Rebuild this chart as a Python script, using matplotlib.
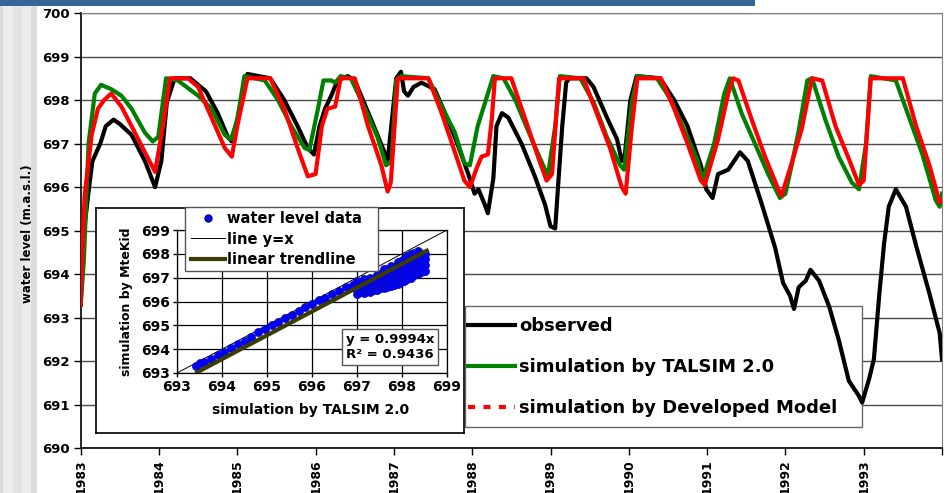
import matplotlib
matplotlib.use('Agg')
import matplotlib.pyplot as plt
from matplotlib.lines import Line2D
from matplotlib.patches import Rectangle

# observed water level
obs_year = [1983.0, 1983.02, 1983.05, 1983.1, 1983.15, 1983.25, 1983.32, 1983.42, 1983.5, 1983.65,
            1983.82, 1983.95, 1984.03, 1984.1, 1984.2, 1984.4, 1984.6, 1984.75, 1984.88, 1984.93,
            1985.0, 1985.1, 1985.13, 1985.42, 1985.6, 1985.77, 1985.9, 1985.98, 1986.05, 1986.12,
            1986.2, 1986.28, 1986.41, 1986.5, 1986.71, 1986.88, 1986.92, 1987.03, 1987.09, 1987.13,
            1987.18, 1987.25, 1987.35, 1987.52, 1987.69, 1987.82, 1987.95, 1988.03, 1988.08, 1988.16,
            1988.2, 1988.27, 1988.31, 1988.38, 1988.46, 1988.63, 1988.8, 1988.93, 1989.0, 1989.06,
            1989.09, 1989.15, 1989.2, 1989.24, 1989.46, 1989.55, 1989.72, 1989.85, 1989.91, 1989.95,
            1990.02, 1990.1, 1990.4, 1990.58, 1990.75, 1990.92, 1990.99, 1991.07, 1991.14, 1991.27,
            1991.42, 1991.52, 1991.7, 1991.87, 1991.97, 1992.06, 1992.11, 1992.17, 1992.26, 1992.32,
            1992.43, 1992.56, 1992.68, 1992.81, 1992.94, 1992.98, 1993.07, 1993.13, 1993.2, 1993.26,
            1993.32, 1993.41, 1993.54, 1993.67, 1993.84, 1993.97, 1994.0]
obs_level = [693.3, 694.2, 695.1, 695.9, 696.6, 697.0, 697.4, 697.55, 697.45, 697.2,
             696.6, 696.0, 696.6, 697.95, 698.5, 698.5, 698.2, 697.7, 697.15, 697.05,
             697.55, 698.45, 698.6, 698.5, 698.0, 697.4, 696.9, 696.75, 697.4, 697.8,
             698.1, 698.45, 698.55, 698.45, 697.55, 696.8, 696.6, 698.5, 698.65, 698.2,
             698.1, 698.3, 698.4, 698.25, 697.55, 696.95, 696.3, 695.85, 695.95, 695.6,
             695.4, 696.2, 697.4, 697.7, 697.6, 697.0, 696.25, 695.6, 695.1, 695.05,
             695.85, 697.4, 698.4, 698.5, 698.5, 698.3, 697.6, 697.1, 696.6, 696.75,
             698.0, 698.55, 698.5, 698.0, 697.4, 696.5, 695.95, 695.75, 696.3, 696.4,
             696.8, 696.6, 695.6, 694.6, 693.8, 693.5, 693.2, 693.7, 693.85, 694.1,
             693.85, 693.25, 692.5, 691.55, 691.2, 691.05, 691.6, 692.05, 693.55, 694.7,
             695.55, 695.95, 695.55, 694.65, 693.55, 692.65, 692.05]

# simulation by TALSIM 2.0
tal_year = [1983.0, 1983.04, 1983.1, 1983.18, 1983.26, 1983.39, 1983.52, 1983.65, 1983.82, 1983.92,
            1983.99, 1984.09, 1984.24, 1984.5, 1984.67, 1984.84, 1984.92, 1985.0, 1985.09, 1985.35,
            1985.52, 1985.69, 1985.86, 1985.92, 1986.03, 1986.1, 1986.2, 1986.25, 1986.32, 1986.45,
            1986.62, 1986.79, 1986.9, 1986.97, 1987.03, 1987.09, 1987.44, 1987.61, 1987.78, 1987.9,
            1987.97, 1988.07, 1988.2, 1988.27, 1988.4, 1988.55, 1988.76, 1988.93, 1988.97, 1989.06,
            1989.12, 1989.38, 1989.55, 1989.72, 1989.89, 1989.94, 1990.04, 1990.11, 1990.36, 1990.54,
            1990.71, 1990.88, 1990.94, 1991.09, 1991.22, 1991.29, 1991.44, 1991.61, 1991.78, 1991.93,
            1992.0, 1992.08, 1992.17, 1992.28, 1992.34, 1992.51, 1992.68, 1992.85, 1992.94, 1993.03,
            1993.09, 1993.41, 1993.58, 1993.75, 1993.92, 1993.97, 1994.0]
tal_level = [693.3, 694.3, 697.0, 698.15, 698.35, 698.25, 698.1, 697.8, 697.25, 697.05,
             697.15, 698.5, 698.45, 698.1, 697.8, 697.2, 697.1, 697.55, 698.55, 698.45,
             698.0, 697.4, 696.9, 696.85, 697.8, 698.45, 698.45, 698.4, 698.55, 698.5,
             697.85, 697.15, 696.5, 696.6, 698.45, 698.55, 698.5, 697.85, 697.25, 696.55,
             696.5, 697.4, 698.15, 698.55, 698.5, 698.0, 697.1, 696.4, 696.3, 697.4,
             698.55, 698.5, 697.95, 697.15, 696.5, 696.4, 697.95, 698.55, 698.5, 698.0,
             697.3, 696.6, 696.15, 697.0, 698.15, 698.5, 697.7, 697.0, 696.3, 695.75,
             695.85, 696.5, 697.3, 698.45, 698.5, 697.55, 696.7, 696.1, 695.95, 697.0,
             698.55, 698.45, 697.6, 696.75, 695.7, 695.55, 695.85]

# simulation by Developed Model
dev_year = [1983.0, 1983.02, 1983.05, 1983.14, 1983.22, 1983.3, 1983.39, 1983.52, 1983.65, 1983.82,
            1983.95, 1984.05, 1984.14, 1984.37, 1984.5, 1984.67, 1984.84, 1984.93, 1985.0, 1985.13,
            1985.42, 1985.6, 1985.77, 1985.9, 1986.0, 1986.08, 1986.15, 1986.25, 1986.32, 1986.5,
            1986.67, 1986.84, 1986.92, 1986.96, 1987.05, 1987.44, 1987.61, 1987.78, 1987.9, 1987.97,
            1988.06, 1988.12, 1988.2, 1988.25, 1988.29, 1988.5, 1988.68, 1988.85, 1988.95, 1989.02,
            1989.08, 1989.11, 1989.42, 1989.59, 1989.76, 1989.91, 1989.96, 1990.04, 1990.11, 1990.41,
            1990.58, 1990.75, 1990.92, 1990.97, 1991.14, 1991.27, 1991.33, 1991.4, 1991.57, 1991.74,
            1991.91, 1991.95, 1992.08, 1992.21, 1992.34, 1992.47, 1992.64, 1992.81, 1992.94, 1993.0,
            1993.09, 1993.5, 1993.67, 1993.84, 1993.97, 1994.0]
dev_level = [693.3, 694.5, 695.8, 697.2, 697.8, 698.0, 698.15, 697.85, 697.4, 696.8,
             696.35, 697.4, 698.5, 698.5, 698.3, 697.6, 696.9, 696.7, 697.4, 698.5,
             698.5, 697.8, 696.9, 696.25, 696.3, 697.4, 697.8, 697.85, 698.5, 698.5,
             697.4, 696.5, 695.9, 696.1, 698.5, 698.5, 697.7, 696.8, 696.15, 696.0,
             696.45, 696.7, 696.75, 697.55, 698.5, 698.5, 697.55, 696.65, 696.15, 696.3,
             697.8, 698.5, 698.5, 697.7, 696.9, 696.0, 695.85, 697.4, 698.5, 698.5,
             697.8, 697.0, 696.15, 696.05, 697.1, 698.15, 698.5, 698.45, 697.55, 696.7,
             695.95, 695.8, 696.55, 697.35, 698.5, 698.45, 697.4, 696.65, 696.05, 696.15,
             698.5, 698.5, 697.4, 696.5, 695.65, 695.7]

# inset scatter: TALSIM (x) vs MteKid (y)
sc_talsim = [693.42, 693.5, 693.6, 693.75, 693.9, 694.05, 694.2, 694.35, 694.5, 694.65,
             694.8, 694.95, 695.1, 695.25, 695.4, 695.55, 695.7, 695.85, 696.0, 696.15,
             696.3, 696.45, 696.6, 696.75, 696.9,
             697.0, 697.0, 697.0, 697.0, 697.07, 697.07, 697.07,
             697.15, 697.15, 697.15, 697.15, 697.22, 697.22, 697.22,
             697.3, 697.3, 697.3, 697.3, 697.37, 697.37, 697.37,
             697.45, 697.45, 697.45, 697.45, 697.52, 697.52, 697.52, 697.52,
             697.6, 697.6, 697.6, 697.6, 697.6, 697.67, 697.67, 697.67, 697.67,
             697.75, 697.75, 697.75, 697.75, 697.75, 697.82, 697.82, 697.82, 697.82,
             697.9, 697.9, 697.9, 697.9, 697.9, 697.97, 697.97, 697.97, 697.97, 697.97,
             698.05, 698.05, 698.05, 698.05, 698.05, 698.12, 698.12, 698.12, 698.12, 698.12,
             698.2, 698.2, 698.2, 698.2, 698.2, 698.27, 698.27, 698.27, 698.27, 698.27,
             698.35, 698.35, 698.35, 698.35, 698.35, 698.42, 698.42, 698.42, 698.42,
             698.5, 698.5, 698.5, 698.5]
sc_mtekid = [693.31, 693.4, 693.48, 693.6, 693.75, 693.9, 694.05, 694.2, 694.35, 694.5,
             694.7, 694.85, 695.0, 695.15, 695.3, 695.45, 695.6, 695.75, 695.9, 696.05,
             696.15, 696.3, 696.45, 696.6, 696.7,
             696.3, 696.5, 696.7, 696.85, 696.4, 696.6, 696.8,
             696.35, 696.55, 696.75, 696.95, 696.45, 696.65, 696.85,
             696.4, 696.6, 696.8, 697.0, 696.5, 696.7, 696.9,
             696.5, 696.7, 696.9, 697.1, 696.55, 696.75, 696.95, 697.15,
             696.55, 696.75, 696.95, 697.2, 697.35, 696.6, 696.85, 697.1, 697.35,
             696.65, 696.85, 697.05, 697.3, 697.5, 696.7, 696.95, 697.2, 697.45,
             696.75, 696.95, 697.2, 697.45, 697.65, 696.8, 697.0, 697.25, 697.5, 697.7,
             696.85, 697.1, 697.35, 697.6, 697.8, 696.95, 697.2, 697.45, 697.7, 697.9,
             697.0, 697.25, 697.5, 697.75, 698.0, 697.1, 697.35, 697.6, 697.85, 698.05,
             697.15, 697.4, 697.65, 697.9, 698.1, 697.25, 697.5, 697.75, 698.0,
             697.3, 697.55, 697.8, 698.0]

trend_slope = 0.9994
trend_r2 = 0.9436
trend_x = [693.45, 698.55]
diag_x = [693, 699]

years = list(range(1983, 1995))
year_labels = [str(y) for y in range(1983, 1994)] + ['']
levels = list(range(690, 701))
inset_ticks = list(range(693, 700))

W, H = 946, 493


def fx(px):
    return px / W


def fy(py):
    return 1 - py / H


def main():
    plt.rcParams['font.family'] = ['DejaVu Sans']
    plt.rcParams['font.weight'] = 'bold'
    fig = plt.figure(figsize=(W / 100, H / 100), dpi=100)
    fig.patch.set_facecolor('white')

    # slide decoration: grey stripes on the left, blue bar on top
    stripes = [(0, 3, '#dadada'), (3, 13, '#ededed'), (13, 22, '#e3e3e3'),
               (22, 31, '#ececec'), (31, 37, '#dcdcdc')]
    for x0, x1, c in stripes:
        fig.patches.append(Rectangle((fx(x0), 0), (x1 - x0) / W, 1, transform=fig.transFigure,
                                     facecolor=c, edgecolor='none', zorder=0))
    fig.patches.append(Rectangle((0, fy(6)), 755 / W, 6 / H, transform=fig.transFigure,
                                 facecolor='#336699', edgecolor='none', zorder=0))

    ax = fig.add_axes([fx(80.7), fy(448.3), (942 - 80.7) / W, (448.3 - 13) / H])
    ax.set_facecolor('white')
    ax.set_xlim(1983, 1994)
    ax.set_ylim(690, 700)
    ax.set_yticks(levels)
    ax.set_xticks(years)
    ax.set_xticklabels(year_labels, rotation=90, fontsize=9, fontweight='bold')
    ax.set_yticklabels([str(v) for v in levels], fontsize=9.5, fontweight='bold')
    ax.tick_params(axis='both', direction='out', length=5, width=1, pad=3)
    ax.yaxis.grid(True, color='#4a4a4a', lw=1)
    ax.set_axisbelow(True)
    for s in ['top', 'right']:
        ax.spines[s].set_color('#808080')
    for s in ['left', 'bottom']:
        ax.spines[s].set_color('black')
        ax.spines[s].set_linewidth(1.2)

    ax.plot(obs_year, obs_level, color='black', lw=3, zorder=3)
    ax.plot(tal_year, tal_level, color='#008000', lw=3, zorder=3)
    ax.plot(dev_year, dev_level, color='#ff0000', lw=3, zorder=3)

    # main legend
    ax.add_patch(Rectangle((fx(465), fy(427)), (862 - 465) / W, (427 - 306) / H,
                           transform=fig.transFigure, facecolor='white',
                           edgecolor='#666666', lw=1, zorder=1))
    handles = [Line2D([], [], color='black', lw=3),
               Line2D([], [], color='#008000', lw=3),
               Line2D([], [], color='#ff0000', lw=3, dashes=(1.7, 2.0))]
    labels = ['observed', 'simulation by TALSIM 2.0', 'simulation by Developed Model']
    leg = ax.legend(handles, labels, loc='upper left', bbox_to_anchor=(fx(468), fy(317)),
                    bbox_transform=fig.transFigure, frameon=False, borderpad=0,
                    borderaxespad=0, handlelength=2.6, handletextpad=0.22,
                    labelspacing=1.27, prop={'size': 13, 'weight': 'bold'})
    leg.set_zorder(4)

    fig.text(fx(28), fy(234), 'water level (m.a.s.l.)', rotation=90, ha='center',
             va='center', fontsize=8.5, fontweight='bold')

    # inset chart
    box = fig.add_axes([fx(96), fy(433), (464 - 96) / W, (433 - 208) / H])
    box.set_xticks([])
    box.set_yticks([])
    for s in box.spines.values():
        s.set_color('black')
        s.set_linewidth(1.2)

    ins = fig.add_axes([fx(177), fy(373), (447 - 177) / W, (373 - 230) / H])
    ins.set_xlim(693, 699)
    ins.set_ylim(693, 699)
    ins.set_xticks(inset_ticks)
    ins.set_yticks(inset_ticks)
    ins.set_xticklabels([str(v) for v in inset_ticks], fontsize=10, fontweight='bold')
    ins.set_yticklabels([str(v) for v in inset_ticks], fontsize=10, fontweight='bold')
    ins.tick_params(direction='out', length=3, width=1, pad=2)
    ins.grid(True, color='black', lw=0.9)
    ins.set_axisbelow(True)
    for s in ins.spines.values():
        s.set_linewidth(0.9)

    ins.plot(diag_x, diag_x, color='black', lw=0.7, zorder=2)
    ins.scatter(sc_talsim, sc_mtekid, s=34, color='#0000ff', edgecolors='#1010a0',
                linewidths=0.5, zorder=3, clip_on=False)
    ins.plot(trend_x, [trend_slope * x for x in trend_x], color='#3c3c00', lw=3, zorder=4)

    fig.text(fx(126), fy(302), 'simulation by MteKid', rotation=90, ha='center',
             va='center', fontsize=9, fontweight='bold')
    fig.text(fx(311), fy(410), 'simulation by TALSIM 2.0', ha='center', va='center',
             fontsize=10, fontweight='bold')

    fig.patches.append(Rectangle((fx(185), fy(271)), (378 - 185) / W, (271 - 207) / H,
                                 transform=fig.transFigure, facecolor='white',
                                 edgecolor='#555555', lw=1, zorder=5))
    ih = [Line2D([], [], ls='none', marker='o', markersize=5, color='#0000ff',
                 markeredgecolor='#000080'),
          Line2D([], [], color='black', lw=0.7),
          Line2D([], [], color='#3c3c00', lw=3)]
    il = ['water level data', 'line y=x', 'linear trendline']
    ileg = fig.legend(ih, il, loc='upper left', bbox_to_anchor=(fx(191), fy(211)),
                      frameon=False, borderpad=0, borderaxespad=0, handlelength=2.3,
                      handletextpad=0.2, labelspacing=0.38,
                      prop={'size': 10.5, 'weight': 'bold'})
    ileg.set_zorder(6)

    fig.text(fx(390), fy(347), 'y = %.4fx\nR² = %.4f' % (trend_slope, trend_r2),
             ha='center', va='center', fontsize=9.5, fontweight='bold', linespacing=1.3,
             bbox=dict(boxstyle='square,pad=0.3', facecolor='white', edgecolor='#555555',
                       lw=1))

    fig.savefig('out.png', dpi=100)


if __name__ == '__main__':
    main()
